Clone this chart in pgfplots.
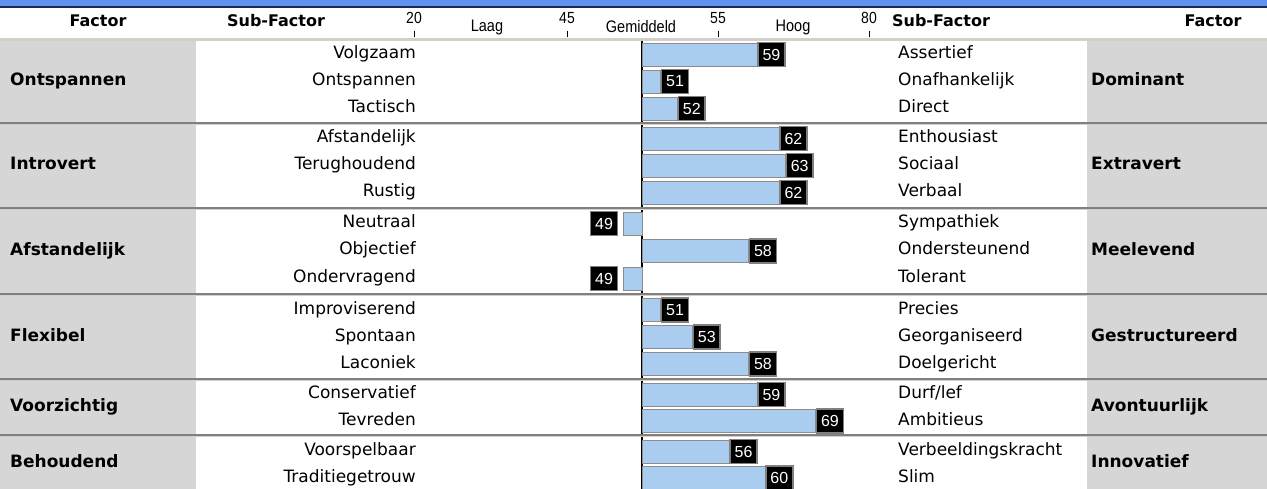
\documentclass[border=0pt]{standalone}
\usepackage{fontspec}
\setmainfont{DejaVu Sans}
\newfontfamily\arial{Liberation Sans}
\usepackage{pgfplots}
\pgfplotsset{compat=1.18}
\usepackage{pgfplotstable}

\definecolor{topblue}{RGB}{96,146,240}
\definecolor{topline}{RGB}{25,40,85}
\definecolor{colgray}{RGB}{214,214,214}
\definecolor{sepdark}{RGB}{128,128,128}
\definecolor{seplight}{RGB}{212,208,200}
\definecolor{barblue}{RGB}{170,204,238}

% row centre (px from top) and score
\pgfplotstableread{
y     v
54.5  59
81.5  51
108.5 52
138.5 62
165.5 63
192.5 62
223.5 49
251   58
278.5 49
310   51
337   53
364   58
394.5 59
421   69
451.5 56
478   60
}\scores

\tikzset{
  lab/.style={inner sep=0pt, font=\fontsize{17}{18}\selectfont, text height=11.5pt, text depth=3.5pt},
  fac/.style={lab, font=\bfseries\fontsize{17}{18}\selectfont},
  hdr/.style={lab, font=\bfseries\fontsize{16}{18}\selectfont},
  scl/.style={inner sep=0pt, font=\arial\fontsize{14}{15}\selectfont},
  word/.style={inner sep=0pt, yscale=1.15, font=\arial\fontsize{14.5}{15}\selectfont},
}

\begin{document}
\begin{tikzpicture}
\useasboundingbox (0,0) rectangle (1267pt,-489pt);
\begin{scope}[x=1pt,y=-1pt]
  % window bar
  \fill[topblue] (0,0) rectangle (1267,6);
  \fill[topline] (0,6) rectangle (1267,8);
  % factor columns
  \foreach \a/\b in {41/122,125/207,210/293,296/378,381/434,437/489}{
    \fill[colgray] (0,\a) rectangle (196,\b);
    \fill[colgray] (1087,\a) rectangle (1267,\b);
  }
  % centre line
  \fill[black] (640.5,41) rectangle (642.5,489);
  % separators
  \fill[seplight] (0,38) rectangle (1267,41);
  \foreach \s in {122,207,293,378,434}{
    \fill[sepdark] (0,\s) rectangle (1267,\s+2);
    \fill[seplight] (0,\s+2) rectangle (1267,\s+3);
  }
  % header
  \node[hdr] at (98,23) {Factor};
  \node[hdr] at (276,23) {Sub-Factor};
  \node[hdr] at (941,23) {Sub-Factor};
  \node[hdr] at (1213,23) {Factor};
  \foreach \x/\t in {414/20,567/45,718/55,869/80}{
    \node[scl, yscale=1.15] at (\x,18) {\t};
    \draw[line width=1pt] (\x,31) -- (\x,37);
  }
  \node[word] at (487,27) {Laag};
  \node[word] at (641,27) {Gemiddeld};
  \node[word] at (793,27) {Hoog};
  % sub-factors
  \foreach \y/\l/\r in {54.5/Volgzaam/Assertief, 81.5/Ontspannen/Onafhankelijk,
      108.5/Tactisch/Direct, 138.5/Afstandelijk/Enthousiast,
      165.5/Terughoudend/Sociaal, 192.5/Rustig/Verbaal,
      223.5/Neutraal/Sympathiek, 251/Objectief/Ondersteunend,
      278.5/Ondervragend/Tolerant, 310/Improviserend/Precies,
      337/Spontaan/Georganiseerd, 364/Laconiek/Doelgericht,
      394.5/Conservatief/Durf\slash lef, 421/Tevreden/Ambitieus,
      451.5/Voorspelbaar/Verbeeldingskracht, 478/Traditiegetrouw/Slim}{
    \node[lab, anchor=east] at (416,\y) {\l};
    \node[lab, anchor=west] at (898,\y) {\r};
  }
  % factors
  \foreach \y/\l/\r in {81.5/Ontspannen/Dominant, 166/Introvert/Extravert,
      251.5/Afstandelijk/Meelevend, 337/Flexibel/Gestructureerd,
      407.5/Voorzichtig/Avontuurlijk, 463/Behoudend/Innovatief}{
    \node[fac, anchor=west] at (10,\y) {\l};
    \node[fac, anchor=west] at (1091,\y) {\r};
  }
\end{scope}

\begin{axis}[
  at={(0pt,0pt)}, anchor=north west,
  scale only axis, width=1267pt, height=489pt,
  xmin=-642, xmax=625, ymin=0, ymax=489, y dir=reverse,
  hide axis, clip=false,
  xbar, bar width=23,
  /pgf/number format/assume math mode=true,
  nodes near coords align=horizontal,
  every node near coord/.append style={fill=black, text=white, draw=gray,
    line width=1.6pt, inner xsep=4.5pt, inner ysep=0pt, minimum height=24pt,
    font=\arial\fontsize{16}{16}\selectfont, xshift=\gap pt},
]
\addplot[fill=barblue, draw=gray!90, line width=0.8pt,
  point meta={\thisrow{v}-50},
  visualization depends on={\thisrow{v} \as \score},
  visualization depends on={ifthenelse(\thisrow{v}<50,-5,0) \as \gap},
  nodes near coords={\pgfmathprintnumber[fixed,precision=0]{\score}}]
  table[x expr={20*(\thisrow{v}-50)/(1+abs(\thisrow{v}-50)/16)}, y=y] {\scores};
\end{axis}
\end{tikzpicture}
\end{document}
